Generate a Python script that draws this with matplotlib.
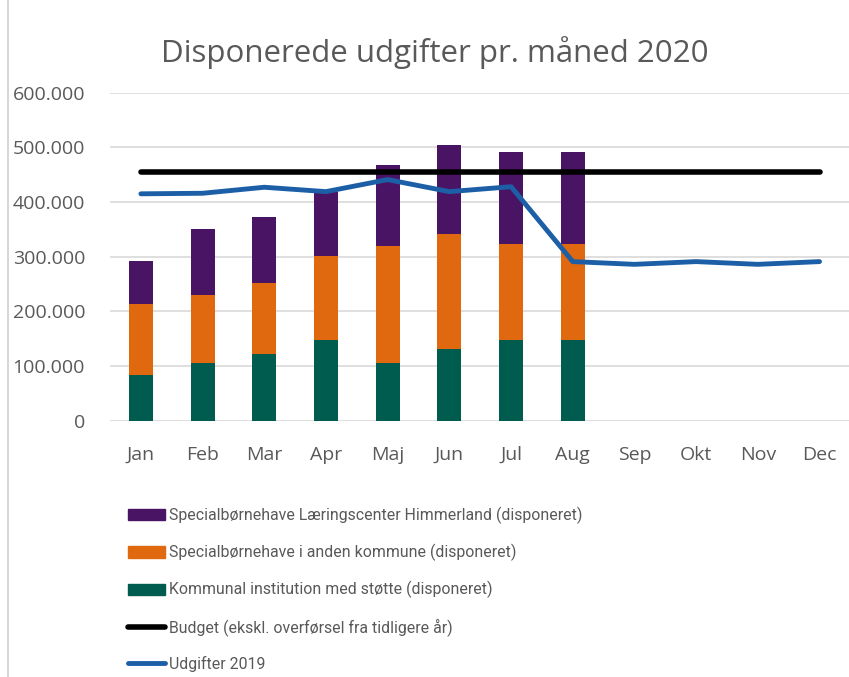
"""
Disponerede udgifter pr. maaned 2020.
"""

import matplotlib.pyplot as plt
import numpy as np
from matplotlib.lines import Line2D
from matplotlib.patches import Patch
from matplotlib.ticker import FuncFormatter, MultipleLocator

# =====================================================
# Data
# =====================================================

months = ["Jan", "Feb", "Mar", "Apr", "Maj", "Jun",
          "Jul", "Aug", "Sep", "Okt", "Nov", "Dec"]

# stacked bars (Jan-Aug)
kommunal = [84000, 106000, 122000, 147000, 106000, 132000, 147000, 147000]
anden_kommune = [129000, 123000, 130000, 155000, 214000, 209000, 176000, 176000]
laeringscenter = [80000, 121000, 121000, 117000, 148000, 163000, 168000, 168000]

budget = [454000] * 12

udgifter_2019 = [415000, 416000, 427000, 419000, 441000, 419000,
                 428000, 291000, 286000, 291000, 286000, 291000]

labels = [
    "Specialbørnehave Læringscenter Himmerland (disponeret)",
    "Specialbørnehave i anden kommune (disponeret)",
    "Kommunal institution med støtte (disponeret)",
    "Budget (ekskl. overførsel fra tidligere år)",
    "Udgifter 2019",
]

# =====================================================
# Style
# =====================================================

c_purple = "#4a1465"
c_orange = "#e0690f"
c_green = "#005c4e"
c_black = "#000000"
c_blue = "#1c5fa6"
c_text = "#595959"

plt.rcParams["font.family"] = ["Open Sans", "DejaVu Sans"]

fig = plt.figure(figsize=(8.49, 6.77), dpi=100)
ax = fig.add_axes([0.1296, 0.3786, 0.8720, 0.4845])

x = np.arange(len(months))
n = len(kommunal)
width = 0.39

b1 = np.array(kommunal)
b2 = np.array(anden_kommune)
b3 = np.array(laeringscenter)

ax.bar(x[:n], b1, width, color=c_green, zorder=2)
ax.bar(x[:n], b2, width, bottom=b1, color=c_orange, zorder=2)
ax.bar(x[:n], b3, width, bottom=b1 + b2, color=c_purple, zorder=2)

ax.plot(x, budget, color=c_black, lw=4, solid_capstyle="round", zorder=3)
ax.plot(x, udgifter_2019, color=c_blue, lw=3.5, solid_capstyle="round",
        zorder=4)

ax.set_xlim(-0.5, len(months) - 0.5)
ax.set_ylim(0, 600000)
ax.yaxis.set_major_locator(MultipleLocator(100000))
ax.yaxis.set_major_formatter(
    FuncFormatter(lambda v, p: f"{int(v):,}".replace(",", "."))
)
ax.set_xticks(x)
ax.set_xticklabels(months)

ax.grid(axis="y", color="#d9d9d9", lw=1.2, zorder=0)
for s in ax.spines.values():
    s.set_visible(False)
ax.tick_params(axis="both", length=0, labelsize=14, colors=c_text)
ax.tick_params(axis="x", pad=18)
ax.tick_params(axis="y", pad=18)

fig.text(0.512, 0.923, "Disponerede udgifter pr. måned 2020",
         ha="center", va="center", fontsize=22.5, color=c_text)

# left border of chart area
fig.add_artist(Line2D([0.0095, 0.0095], [0, 1], color="#d0d0d0", lw=1.2,
                      transform=fig.transFigure))

# =====================================================
# Legend
# =====================================================

handles = [
    Patch(color=c_purple),
    Patch(color=c_orange),
    Patch(color=c_green),
    Line2D([], [], color=c_black, lw=4, solid_capstyle="round"),
    Line2D([], [], color=c_blue, lw=3.5, solid_capstyle="round"),
]

leg = fig.legend(
    handles,
    labels,
    loc="upper left",
    bbox_to_anchor=(0.151, 0.251),
    frameon=False,
    labelspacing=1.25,
    handlelength=2.35,
    handleheight=0.7,
    handletextpad=0.25,
    borderaxespad=0,
    borderpad=0,
    prop={"family": ["Roboto", "DejaVu Sans"], "size": 11.4},
)
for t in leg.get_texts():
    t.set_color(c_text)

fig.savefig("out.png", dpi=100)
